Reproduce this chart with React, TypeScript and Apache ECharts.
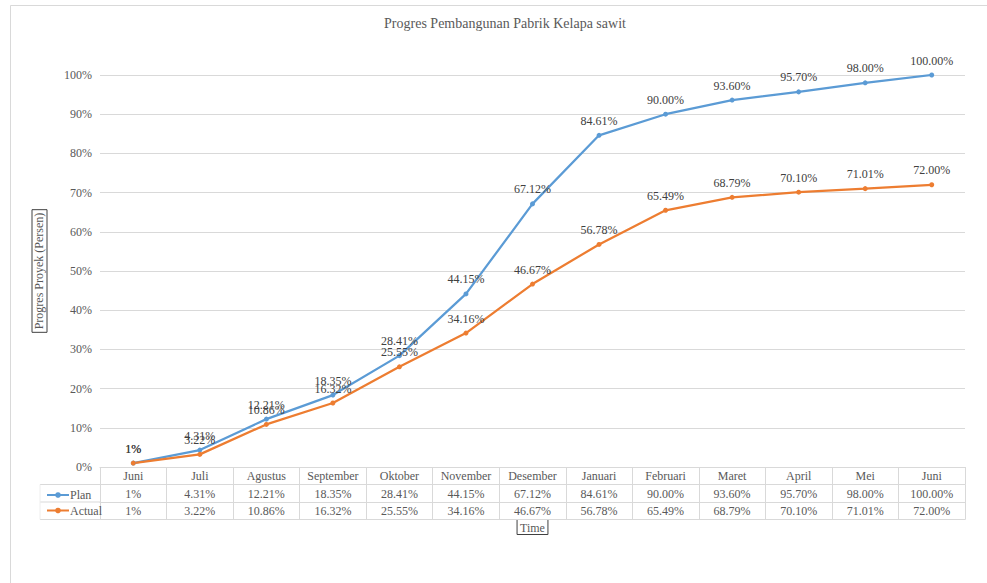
import React, { useEffect, useRef } from "react";
import * as echarts from "echarts";

const months = ["Juni", "Juli", "Agustus", "September", "Oktober", "November", "Desember", "Januari", "Februari", "Maret", "April", "Mei", "Juni"];
const planValues = [1, 4.31, 12.21, 18.35, 28.41, 44.15, 67.12, 84.61, 90.0, 93.6, 95.7, 98.0, 100.0];
const actualValues = [1, 3.22, 10.86, 16.32, 25.55, 34.16, 46.67, 56.78, 65.49, 68.79, 70.1, 71.01, 72.0];
const planText = ["1%", "4.31%", "12.21%", "18.35%", "28.41%", "44.15%", "67.12%", "84.61%", "90.00%", "93.60%", "95.70%", "98.00%", "100.00%"];
const actualText = ["1%", "3.22%", "10.86%", "16.32%", "25.55%", "34.16%", "46.67%", "56.78%", "65.49%", "68.79%", "70.10%", "71.01%", "72.00%"];
const seriesNames = ["Plan", "Actual"];

const FONT = "'Liberation Serif', 'Times New Roman', serif";
const GRID_C = "#d9d9d9";
const TXT = "#595959";
const BLUE = "#5B9BD5";
const ORANGE = "#ED7D31";

export default function App() {
  const ref = useRef<HTMLDivElement>(null);
  useEffect(() => {
    if (!ref.current) return;
    const chart = echarts.init(ref.current, null, { renderer: "svg" });
    const tableAxis = (offset: number, data: string[], showLabel: boolean, extra: any = {}) => ({
      type: "category",
      position: "bottom",
      offset,
      data,
      boundaryGap: true,
      axisLine: { show: true, lineStyle: { color: GRID_C, width: 1 } },
      axisTick: { show: showLabel, interval: 0, alignWithLabel: false, length: 17.5, lineStyle: { color: GRID_C } },
      axisLabel: { show: showLabel, interval: 0, margin: 3, color: TXT, fontFamily: FONT, fontSize: 12 },
      splitLine: { show: false },
      ...extra,
    });
    chart.setOption({
      animation: false,
      backgroundColor: "#ffffff",
      title: {
        text: "Progres Pembangunan Pabrik Kelapa sawit",
        left: 500,
        textAlign: "center",
        top: 11,
        textStyle: { fontFamily: FONT, fontSize: 14, fontWeight: "normal", color: TXT },
      },
      grid: { left: 100, right: 22, top: 75, bottom: 116, containLabel: false },
      legend: {
        orient: "vertical",
        left: 41,
        top: 484,
        itemWidth: 22,
        itemHeight: 7,
        itemGap: 3.5,
        data: seriesNames,
        textStyle: { fontFamily: FONT, fontSize: 12, color: TXT, padding: [0, 0, 0, -4] },
      },
      graphic: [
        { type: "rect", shape: { x: 10.5, y: 5.5, width: 1000, height: 700 }, style: { fill: "none", stroke: GRID_C, lineWidth: 1 }, silent: true },
        { type: "line", shape: { x1: 40, y1: 484.5, x2: 100, y2: 484.5 }, style: { stroke: GRID_C, lineWidth: 1 } },
        { type: "line", shape: { x1: 40, y1: 502, x2: 100, y2: 502 }, style: { stroke: GRID_C, lineWidth: 1 } },
        { type: "line", shape: { x1: 40, y1: 519.5, x2: 100, y2: 519.5 }, style: { stroke: GRID_C, lineWidth: 1 } },
        { type: "line", shape: { x1: 40, y1: 484.5, x2: 40, y2: 519.5 }, style: { stroke: "#eeeeee", lineWidth: 1 } },
      ],
      xAxis: [
        tableAxis(0, months, true),
        tableAxis(17.5, planText, true),
        tableAxis(35, actualText, true),
        tableAxis(52.5, months, false, {
          name: "Time",
          nameLocation: "middle",
          nameGap: 0,
          nameTextStyle: { fontFamily: FONT, fontSize: 12, color: TXT, borderColor: "#404040", borderWidth: 1, padding: [2, 3, 1, 3] },
        }),
      ],
      yAxis: {
        type: "value",
        min: 0,
        max: 100,
        interval: 10,
        name: "Progres Proyek (Persen)",
        nameLocation: "middle",
        nameGap: 53,
        nameTextStyle: { fontFamily: FONT, fontSize: 12, color: TXT, borderColor: "#404040", borderWidth: 1, padding: [1, 3, 2, 3] },
        axisLine: { show: false },
        axisTick: { show: false },
        axisLabel: { formatter: "{value}%", color: TXT, fontFamily: FONT, fontSize: 12, margin: 8 },
        splitLine: { lineStyle: { color: GRID_C, width: 1 } },
      },
      series: [
        {
          name: seriesNames[0],
          type: "line",
          xAxisIndex: 0,
          data: planValues,
          symbol: "circle",
          symbolSize: 5,
          color: BLUE,
          lineStyle: { width: 2.25, color: BLUE },
          itemStyle: { color: BLUE },
          label: {
            show: true,
            position: "top",
            distance: 6,
            formatter: (p: any) => planText[p.dataIndex],
            fontFamily: FONT,
            fontSize: 12,
            color: "#404040",
          },
        },
        {
          name: seriesNames[1],
          type: "line",
          xAxisIndex: 0,
          data: actualValues,
          symbol: "circle",
          symbolSize: 5,
          color: ORANGE,
          lineStyle: { width: 2.25, color: ORANGE },
          itemStyle: { color: ORANGE },
          label: {
            show: true,
            position: "top",
            distance: 6,
            formatter: (p: any) => actualText[p.dataIndex],
            fontFamily: FONT,
            fontSize: 12,
            color: "#404040",
          },
        },
      ],
    });
    return () => chart.dispose();
  }, []);
  return <div ref={ref} style={{ position: "fixed", left: 0, top: 0, width: 987, height: 583 }} />;
}
